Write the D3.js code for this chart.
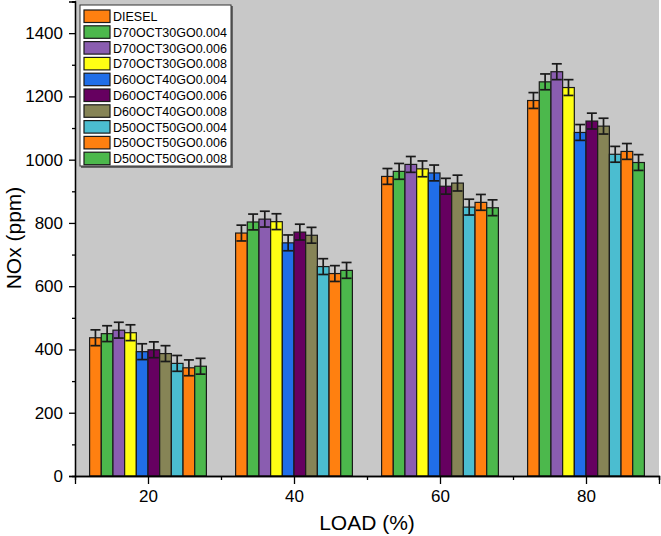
<!DOCTYPE html>
<html><head><meta charset="utf-8">
<script src="https://cdn.jsdelivr.net/npm/d3@7"></script>
<style>body{margin:0;background:#fff}svg{display:block}text{font-family:"Liberation Sans",Arial,sans-serif}</style>
</head><body><svg id="c" width="661" height="536"></svg>
<script>
const loads = [20, 40, 60, 80];
const seriesNames = ["DIESEL","D70OCT30GO0.004","D70OCT30GO0.006","D70OCT30GO0.008","D60OCT40GO0.004","D60OCT40GO0.006","D60OCT40GO0.008","D50OCT50GO0.004","D50OCT50GO0.006","D50OCT50GO0.008"];
const seriesColors = ["#ff8010","#4cb84c","#8a5db0","#ffff14","#206ee8","#660060","#868456","#4bbdd0","#ff8010","#4cb84c"];
const sDIESEL = [437, 768, 947, 1187];
const sD70_004 = [450, 803, 963, 1246];
const sD70_006 = [461, 812, 985, 1278];
const sD70_008 = [453, 804, 971, 1228];
const sD60_004 = [393, 737, 958, 1086];
const sD60_006 = [399, 771, 916, 1122];
const sD60_008 = [387, 761, 926, 1106];
const sD50_004 = [356, 662, 850, 1017];
const sD50_006 = [342, 640, 865, 1026];
const sD50_008 = [347, 650, 848, 991];
const errors = [25, 25, 25, 25];
const seriesValues = [sDIESEL,sD70_004,sD70_006,sD70_008,sD60_004,sD60_006,sD60_008,sD50_004,sD50_006,sD50_008];
const xTicks = [20, 40, 60, 80];
const yTicks = [0, 200, 400, 600, 800, 1000, 1200, 1400];

const svg = d3.select("#c");
const L = 75, R = 659, T = 1.5, B = 476;
const x = d3.scaleLinear().domain([10, 90]).range([L, R]);
const y = d3.scaleLinear().domain([0, 1500]).range([B, T]);

svg.append("rect").attr("x", L).attr("y", 0).attr("width", R - L).attr("height", B).attr("fill", "#c8c8c8");

const barW = 1.6;
const data = [];
seriesValues.forEach((vals, i) => vals.forEach((v, j) => data.push({i, load: loads[j], v, e: errors[j]})));
const bx = d => x(d.load - 8 + d.i * barW);
const bw = x(barW) - x(0);
const g = svg.append("g");
g.selectAll("rect.bar").data(data).join("rect").attr("class","bar")
  .attr("x", d => bx(d)).attr("y", d => y(d.v)).attr("width", bw).attr("height", d => B - y(d.v))
  .attr("fill", d => seriesColors[d.i]).attr("stroke", "#1a1a1a").attr("stroke-width", 1.2);
const eb = svg.append("g").attr("stroke", "#1a1a1a").attr("stroke-width", 1.7);
const cap = 5;
data.forEach(d => {
  const cx = bx(d) + bw / 2;
  eb.append("line").attr("x1", cx).attr("x2", cx).attr("y1", y(d.v + d.e)).attr("y2", y(d.v - d.e));
  eb.append("line").attr("x1", cx - cap).attr("x2", cx + cap).attr("y1", y(d.v + d.e)).attr("y2", y(d.v + d.e));
  eb.append("line").attr("x1", cx - cap).attr("x2", cx + cap).attr("y1", y(d.v - d.e)).attr("y2", y(d.v - d.e));
});

// axes
const xAx = svg.append("g").attr("transform", `translate(0,${B})`);
xAx.call(d3.axisBottom(x).tickValues(xTicks).tickSize(8).tickPadding(6).tickFormat(d3.format("d")));
xAx.append("g").call(d3.axisBottom(x).tickValues([30, 50, 70, 90]).tickSize(4).tickFormat(""));
xAx.selectAll("path.domain").attr("stroke", "#000").attr("stroke-width", 1.3);
xAx.selectAll("text").attr("font-size", 17).attr("fill", "#000");
xAx.selectAll("line").attr("stroke", "#000").attr("stroke-width", 1.3);

const yAx = svg.append("g").attr("transform", `translate(${L},0)`);
yAx.call(d3.axisLeft(y).tickValues(yTicks).tickSize(6).tickPadding(6).tickFormat(d3.format("d")));
yAx.append("g").call(d3.axisLeft(y).tickValues([100,300,500,700,900,1100,1300,1500]).tickSize(3).tickFormat(""));
yAx.selectAll("path.domain").attr("stroke", "#000").attr("stroke-width", 1.3);
yAx.selectAll("text").attr("font-size", 17).attr("fill", "#000");
yAx.selectAll("line").attr("stroke", "#000").attr("stroke-width", 1.3);

svg.append("text").attr("x", (L + R) / 2).attr("y", 530).attr("text-anchor", "middle").attr("font-size", 21).text("LOAD (%)");
svg.append("text").attr("transform", `translate(21,${(B) / 2}) rotate(-90)`).attr("text-anchor", "middle").attr("font-size", 21).text("NOx (ppm)");

// legend
const lg = svg.append("g");
lg.append("rect").attr("x", 81).attr("y", 6).attr("width", 152).attr("height", 162).attr("fill", "#666");
lg.append("rect").attr("x", 80).attr("y", 5).attr("width", 151).attr("height", 161).attr("fill", "#fff").attr("stroke", "#333").attr("stroke-width", 1);
seriesNames.forEach((n, i) => {
  const yy = 10 + i * 15.8;
  lg.append("rect").attr("x", 84).attr("y", yy).attr("width", 26).attr("height", 12.5).attr("fill", seriesColors[i]).attr("stroke", "#1a1a1a").attr("stroke-width", 1.2);
  lg.append("text").attr("x", 113).attr("y", yy + 11).attr("font-size", 12.5).attr("fill", "#000").text(n);
});
</script></body></html>
